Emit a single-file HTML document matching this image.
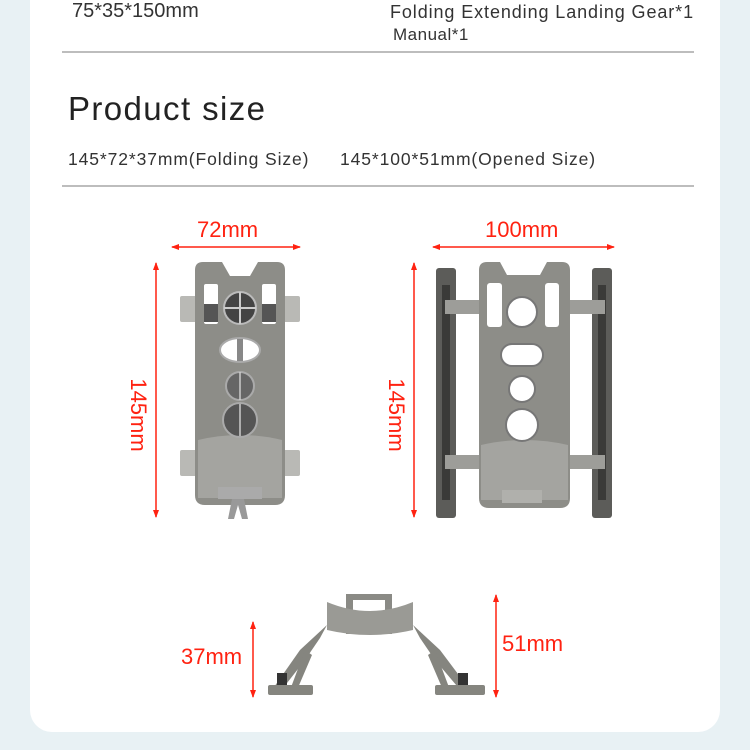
<!DOCTYPE html>
<html><head><style>
html,body{margin:0;padding:0;width:750px;height:750px;background:#e8f1f4;overflow:hidden}
.card{position:absolute;left:30px;top:-30px;width:690px;height:762px;background:#fff;border-radius:22px}
.t{position:absolute;font-family:"Liberation Sans",sans-serif;color:#333;white-space:nowrap}
.hr{position:absolute;left:62px;width:632px;height:2px;background:#bdbdbd}
svg{position:absolute;left:0;top:0}
</style></head><body>
<div class="card"></div>
<div class="t" style="left:72px;top:0px;font-size:20px;">75*35*150mm</div>
<div class="t" style="left:390px;top:2px;font-size:18px;letter-spacing:0.9px">Folding Extending Landing Gear*1</div>
<div class="t" style="left:393px;top:25px;font-size:17px;letter-spacing:0.5px">Manual*1</div>
<div class="hr" style="top:51px"></div>
<div class="t" style="left:68px;top:90px;font-size:33px;color:#222;letter-spacing:1.4px">Product size</div>
<div class="t" style="left:68px;top:149px;font-size:17.5px;letter-spacing:0.9px">145*72*37mm(Folding Size)</div>
<div class="t" style="left:340px;top:149px;font-size:17.5px;letter-spacing:0.9px">145*100*51mm(Opened Size)</div>
<div class="hr" style="top:185px"></div>
<svg width="750" height="750" viewBox="0 0 750 750">
<defs>
<marker id="a" markerWidth="8" markerHeight="8" refX="7" refY="4" orient="auto-start-reverse" markerUnits="userSpaceOnUse"><path d="M0,1 L8,4 L0,7z" fill="#f21"/></marker>
</defs>
<g stroke="#f21" stroke-width="1.5" marker-start="url(#a)" marker-end="url(#a)">
<line x1="172" y1="247" x2="300" y2="247"/>
<line x1="156" y1="263" x2="156" y2="517"/>
<line x1="433" y1="247" x2="614" y2="247"/>
<line x1="414" y1="263" x2="414" y2="517"/>
<line x1="253" y1="622" x2="253" y2="697"/>
<line x1="496" y1="595" x2="496" y2="697"/>
</g>
<g font-family="Liberation Sans,sans-serif" fill="#f21" font-size="22">
<text x="197" y="237">72mm</text>
<text x="485" y="237">100mm</text>
<text x="181" y="664">37mm</text>
<text x="502" y="651">51mm</text>
<text transform="translate(131,415) rotate(90)" text-anchor="middle">145mm</text>
<text transform="translate(389,415) rotate(90)" text-anchor="middle">145mm</text>
</g>
<!-- folded -->
<g>
<rect x="180" y="296" width="120" height="26" rx="2" fill="#b9b9b5"/>
<rect x="180" y="450" width="120" height="26" rx="2" fill="#b9b9b5"/>
<path d="M195,270 Q195,262 203,262 L222,262 L230,276 L250,276 L258,262 L277,262 Q285,262 285,270 L285,495 Q285,505 275,505 L205,505 Q195,505 195,495 Z" fill="#8d8d88"/>
<path d="M198,440 Q240,430 282,440 L282,498 L198,498Z" fill="#a4a4a0"/>
<rect x="204" y="284" width="14" height="40" rx="2" fill="#fff"/>
<rect x="262" y="284" width="14" height="40" rx="2" fill="#fff"/>
<rect x="204" y="304" width="14" height="18" fill="#555"/>
<rect x="262" y="304" width="14" height="18" fill="#555"/>
<circle cx="240" cy="308" r="16" fill="#444" stroke="#bbb" stroke-width="2"/>
<path d="M240,292v32M224,308h32" stroke="#ccc" stroke-width="2"/>
<ellipse cx="240" cy="350" rx="20" ry="12" fill="#fff" stroke="#aaa" stroke-width="2"/>
<rect x="237" y="339" width="6" height="22" fill="#888"/>
<circle cx="240" cy="386" r="14" fill="#666" stroke="#aaa" stroke-width="2"/>
<circle cx="240" cy="420" r="17" fill="#555" stroke="#aaa" stroke-width="2"/>
<path d="M240,372v28M240,404v32" stroke="#ccc" stroke-width="1.5"/>
<rect x="218" y="487" width="44" height="12" fill="#aaa"/>
<path d="M232,499 l-4,20 h6 l4,-14 l4,14 h6 l-4,-20z" fill="#999"/>
</g>
<!-- opened -->
<g>
<rect x="436" y="268" width="20" height="250" rx="3" fill="#5c5c59"/>
<rect x="592" y="268" width="20" height="250" rx="3" fill="#5c5c59"/>
<rect x="442" y="285" width="8" height="215" fill="#3a3a38"/>
<rect x="598" y="285" width="8" height="215" fill="#3a3a38"/>
<rect x="445" y="300" width="160" height="14" fill="#9d9d99"/>
<rect x="445" y="455" width="160" height="14" fill="#9d9d99"/>
<path d="M479,270 Q479,262 487,262 L500,262 L507,275 L540,275 L547,262 L562,262 Q570,262 570,270 L570,498 Q570,508 560,508 L489,508 Q479,508 479,498 Z" fill="#8d8d88"/>
<path d="M481,445 Q525,435 568,445 L568,500 L481,500Z" fill="#a4a4a0"/>
<rect x="487" y="283" width="15" height="44" rx="3" fill="#fff"/>
<rect x="545" y="283" width="14" height="44" rx="3" fill="#fff"/>
<circle cx="522" cy="312" r="15" fill="#fff" stroke="#777" stroke-width="2"/>
<rect x="501" y="344" width="42" height="22" rx="11" fill="#fff" stroke="#777" stroke-width="2"/>
<circle cx="522" cy="389" r="13" fill="#fff" stroke="#777" stroke-width="2"/>
<circle cx="522" cy="425" r="16" fill="#fff" stroke="#777" stroke-width="2"/>
<rect x="502" y="490" width="40" height="13" fill="#b0b0ac"/>
</g>
<!-- side view -->
<g fill="#85857f">
<rect x="346" y="594" width="46" height="40" fill="#8a8a85"/>
<rect x="353" y="600" width="32" height="16" fill="#fff"/>
<path d="M327,602 Q370,620 413,602 L413,630 Q370,640 327,630Z" fill="#9a9a95"/>
<path d="M327,625 L300,650 L272,690 L280,692 L305,660 L320,638Z"/>
<path d="M413,625 L440,650 L470,690 L462,692 L435,660 L420,638Z"/>
<path d="M305,650 L290,690 L297,690 L312,655Z"/>
<path d="M435,650 L450,690 L443,690 L428,655Z"/>
<rect x="268" y="685" width="45" height="10" rx="2"/>
<rect x="435" y="685" width="50" height="10" rx="2"/>
<rect x="277" y="673" width="10" height="12" fill="#333"/>
<rect x="458" y="673" width="10" height="12" fill="#333"/>
</g>
</svg>
</body></html>
